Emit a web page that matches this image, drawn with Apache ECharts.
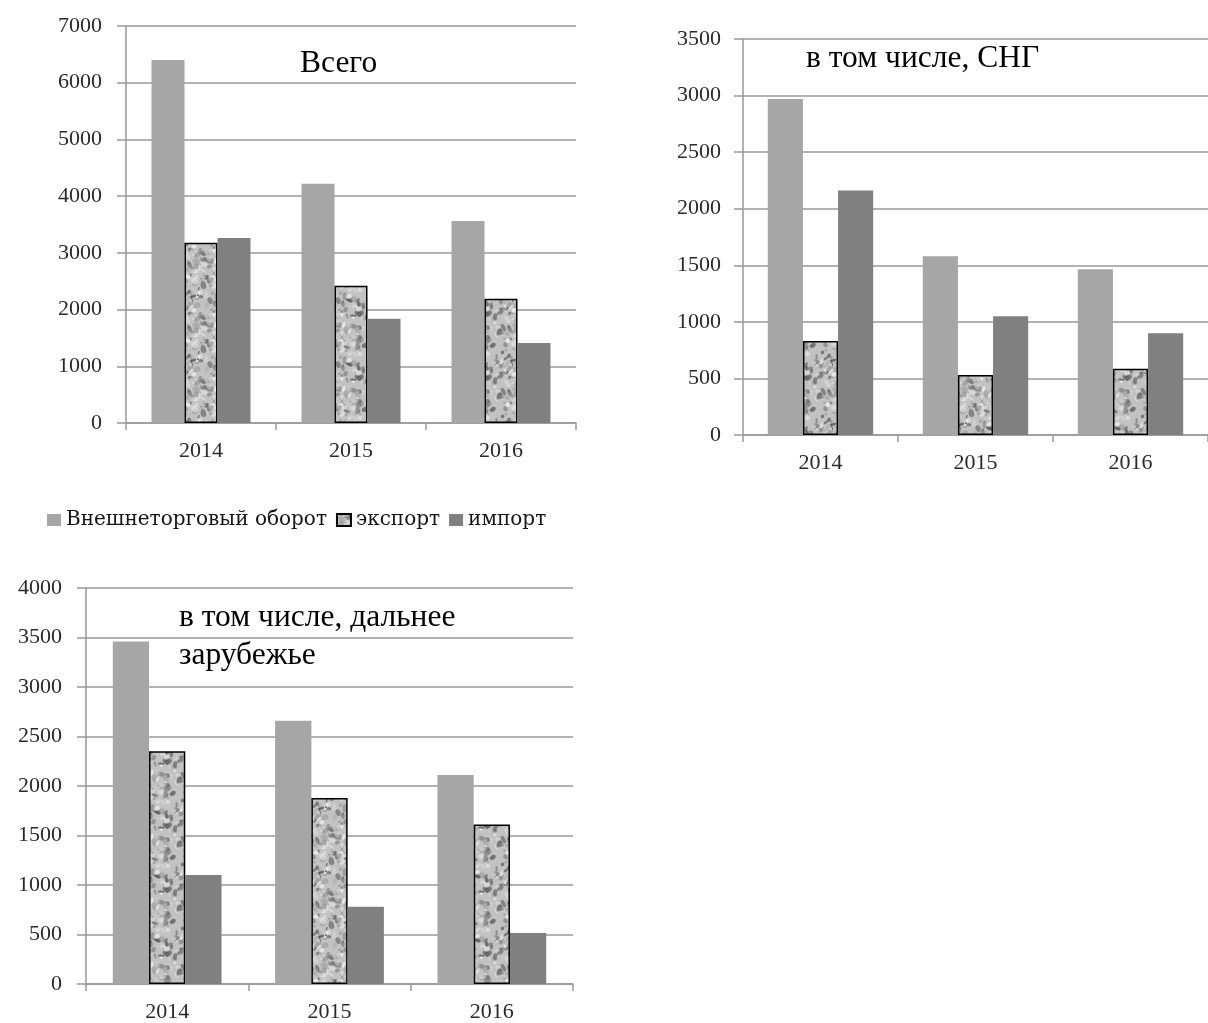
<!DOCTYPE html>
<html>
<head>
<meta charset="utf-8">
<script src="https://cdn.jsdelivr.net/npm/echarts@6/dist/echarts.min.js"></script>
<style>
html,body{margin:0;padding:0;background:#fff;}
#chart{width:1208px;height:1023px;}
</style>
</head>
<body>
<div id="chart"></div>
<script>
// ---- data ----
const years = ['2014', '2015', '2016'];
const seriesNames = ['Внешнеторговый оборот', 'экспорт', 'импорт'];

const totalTurnover = [6400, 4220, 3560];
const totalExport   = [3180, 2420, 2190];
const totalImport   = [3260, 1840, 1410];

const cisTurnover = [2970, 1580, 1465];
const cisExport   = [830, 530, 585];
const cisImport   = [2160, 1050, 900];

const farTurnover = [3460, 2660, 2110];
const farExport   = [2350, 1880, 1610];
const farImport   = [1100, 780, 515];

const titles = ['Всего', 'в том числе, СНГ', 'в том числе, дальнее\nзарубежье'];
const yMaxes = [7000, 3500, 4000];
const yIntervals = [1000, 500, 500];

// ---- marble-like texture for export bars (deterministic hash, style only) ----
function hash(n) { const s = Math.sin(n * 12.9898 + 78.233) * 43758.5453; return s - Math.floor(s); }
function makeTexture() {
  const S = 64;
  const c = document.createElement('canvas');
  c.width = S; c.height = S;
  const g = c.getContext('2d');
  g.fillStyle = '#c2c2c2';
  g.fillRect(0, 0, S, S);
  const shades = ['#7a7a7a', '#6a6a6a', '#8e8e8e', '#a6a6a6', '#dedede', '#ececec', '#d4d4d4', '#5e5e5e'];
  for (let i = 0; i < 190; i++) {
    const x = hash(i + 1) * S;
    const y = hash(i + 301) * S;
    const rx = 1.0 + hash(i + 601) * 3.0;
    const ry = 0.8 + hash(i + 901) * 2.2;
    const rot = hash(i + 1201) * Math.PI;
    g.fillStyle = shades[Math.floor(hash(i + 1501) * shades.length)];
    g.globalAlpha = 0.5 + hash(i + 1801) * 0.4;
    for (const dx of [-S, 0, S]) for (const dy of [-S, 0, S]) {
      g.beginPath();
      g.ellipse(x + dx, y + dy, rx, ry, rot, 0, Math.PI * 2);
      g.fill();
    }
  }
  g.globalAlpha = 1;
  return c;
}
const texture = makeTexture();

const colTurnover = '#a6a6a6';
const colImport = '#808080';
const gridColor = '#999999';
const labelColor = '#2a2a2a';
const tickFont = 'Liberation Serif';

const grids = [
  { left: 126, right: 632, top: 26, bottom: 600 },
  { left: 743, right: -12, top: 39, bottom: 588 },
  { left: 86, right: 635, top: 588, bottom: 38 }
];
const gaps = ['34%', '32%', '33%'];
const yMargins = [24, 22, 24];
const dataSets = [
  [totalTurnover, totalExport, totalImport],
  [cisTurnover, cisExport, cisImport],
  [farTurnover, farExport, farImport]
];

const xAxes = [], yAxes = [], series = [];
grids.forEach((gr, i) => {
  xAxes.push({
    type: 'category', gridIndex: i, data: years,
    axisLine: { show: true, lineStyle: { color: gridColor, width: 1.5 } },
    axisTick: { show: true, length: 7, inside: false, lineStyle: { color: gridColor, width: 1.5 } },
    axisLabel: { margin: 17, color: labelColor, fontFamily: tickFont, fontSize: 22 },
    splitLine: { show: false }
  });
  yAxes.push({
    type: 'value', gridIndex: i, min: 0, max: yMaxes[i], interval: yIntervals[i],
    axisLine: { show: true, lineStyle: { color: gridColor, width: 1.5 } },
    axisTick: { show: true, length: 9, inside: false, lineStyle: { color: gridColor, width: 1.5 } },
    axisLabel: { margin: yMargins[i], color: labelColor, fontFamily: tickFont, fontSize: 22,
                 formatter: (v) => String(v) },
    splitLine: { show: true, lineStyle: { color: gridColor, width: 1.5 } }
  });
  const d = dataSets[i];
  series.push({
    name: seriesNames[0], type: 'bar', xAxisIndex: i, yAxisIndex: i, data: d[0],
    barGap: '0%', barCategoryGap: gaps[i],
    itemStyle: { color: colTurnover }
  });
  series.push({
    name: seriesNames[1], type: 'bar', xAxisIndex: i, yAxisIndex: i, data: d[1],
    barGap: '0%', barCategoryGap: gaps[i],
    itemStyle: { color: { image: texture, repeat: 'repeat' }, borderColor: '#000', borderWidth: 1.5 }
  });
  series.push({
    name: seriesNames[2], type: 'bar', xAxisIndex: i, yAxisIndex: i, data: d[2],
    barGap: '0%', barCategoryGap: gaps[i],
    itemStyle: { color: colImport }
  });
});

const titleFont = '31.5px "Liberation Serif"';
const option = {
  animation: false,
  backgroundColor: '#ffffff',
  grid: grids,
  xAxis: xAxes,
  yAxis: yAxes,
  series: series,
  legend: {
    data: seriesNames,
    left: 47, top: 509, padding: 0,
    itemWidth: 14, itemHeight: 12, itemGap: 9,
    icon: 'rect',
    textStyle: { fontFamily: 'DejaVu Serif', fontSize: 20, color: '#151515', lineHeight: 22 }
  },
  graphic: [
    { type: 'text', left: 300, top: 48, style: { text: titles[0], font: titleFont, fill: '#000' } },
    { type: 'text', left: 806, top: 43, style: { text: titles[1], font: titleFont, fill: '#000' } },
    { type: 'text', left: 179, top: 598, style: { text: titles[2], font: titleFont, fill: '#000', lineHeight: 38.5 } }
  ]
};

const chart = echarts.init(document.getElementById('chart'));
chart.setOption(option);
</script>
</body>
</html>
